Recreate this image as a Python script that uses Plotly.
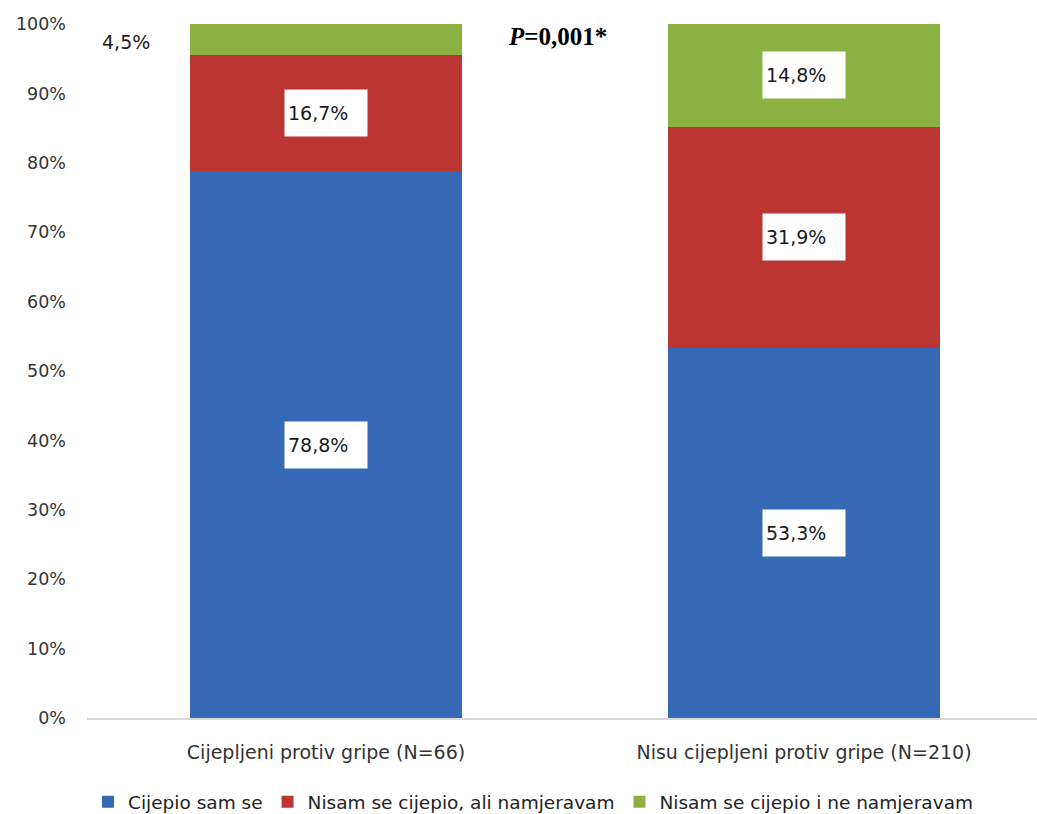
import plotly.graph_objects as go

categories = ["Cijepljeni protiv gripe (N=66)", "Nisu cijepljeni protiv gripe (N=210)"]
series_names = ["Cijepio sam se", "Nisam se cijepio, ali namjeravam", "Nisam se cijepio i ne namjeravam"]
vaccinated = [78.8, 53.3]
intend = [16.7, 31.9]
not_intend = [4.5, 14.8]
tick_vals = [0, 10, 20, 30, 40, 50, 60, 70, 80, 90, 100]
tick_text = ["0%", "10%", "20%", "30%", "40%", "50%", "60%", "70%", "80%", "90%", "100%"]
p_text = "<b><i>P</i>=0,001*</b>"

colors = ["#3569b5", "#bb3533", "#8bb243"]
series = [vaccinated, intend, not_intend]

fig = go.Figure()
for name, vals, col in zip(series_names, series, colors):
    fig.add_trace(go.Bar(
        x=categories, y=vals, name=name,
        marker=dict(color=col, line=dict(width=0)),
        width=0.57,
    ))

def fmt(v):
    return f"{v:.1f}".replace(".", ",") + "%"

# labels in white boxes
for ci, cat in enumerate(categories):
    base = 0
    for si, vals in enumerate(series):
        v = vals[ci]
        mid = base + v / 2
        base += v
        if si == 2 and ci == 0:
            fig.add_annotation(x=cat, y=mid, text=fmt(v), showarrow=False,
                               xshift=-200, yshift=-2,
                               font=dict(family="DejaVu Sans", size=19, color="#1a1a1a"))
        else:
            fig.add_annotation(x=cat, y=mid, text=fmt(v), showarrow=False,
                               bgcolor="white", width=76, height=40, align="left",
                               borderpad=3,
                               font=dict(family="DejaVu Sans", size=19, color="#1a1a1a"))

fig.add_annotation(x=0.485, y=100, text=p_text, showarrow=False, yanchor="middle",
                   yshift=-12,
                   font=dict(family="Liberation Serif", size=25, color="black"),
                   xref="x", yref="y")

fig.update_layout(
    width=1037, height=814,
    margin=dict(l=87, r=0, t=24, b=96, autoexpand=False),
    plot_bgcolor="white", paper_bgcolor="white",
    barmode="stack",
    showlegend=True,
    legend=dict(orientation="h", x=0.47, xanchor="center", y=-0.094, yanchor="top",
                font=dict(family="DejaVu Sans", size=18.5, color="#222"),
                traceorder="normal", itemwidth=30),
    font=dict(family="DejaVu Sans", size=16, color="#333"),
)
fig.update_yaxes(range=[0, 100], tickmode="array", tickvals=tick_vals, ticktext=tick_text,
                 showgrid=False, zeroline=False, showline=False, ticklabelstandoff=20,
                 automargin=False,
                 tickfont=dict(family="DejaVu Sans", size=17.5, color="#333"))
fig.update_xaxes(showline=True, linecolor="#d9d9d9", linewidth=2, showgrid=False,
                 range=[-0.5, 1.4874], ticks="", ticklabelstandoff=16, automargin=False,
                 tickfont=dict(family="DejaVu Sans", size=19, color="#333"))

fig.write_html("out.html")
